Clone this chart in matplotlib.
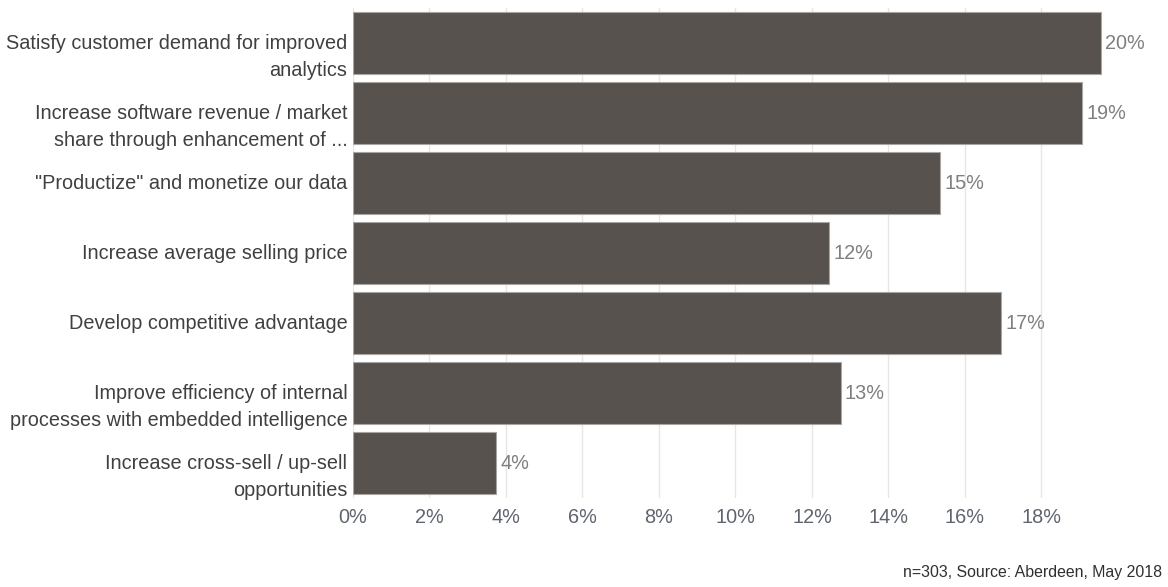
import matplotlib.pyplot as plt
import numpy as np

plt.rcParams["font.family"] = ["Liberation Sans", "DejaVu Sans"]

categories = [
    "Satisfy customer demand for improved\nanalytics",
    "Increase software revenue / market\nshare through enhancement of ...",
    "\"Productize\" and monetize our data",
    "Increase average selling price",
    "Develop competitive advantage",
    "Improve efficiency of internal\nprocesses with embedded intelligence",
    "Increase cross-sell / up-sell\nopportunities",
]
values = [19.56, 19.06, 15.35, 12.45, 16.95, 12.75, 3.74]
value_labels = ["20%", "19%", "15%", "12%", "17%", "13%", "4%"]
xticks = [0, 2, 4, 6, 8, 10, 12, 14, 16, 18]
source_note = "n=303, Source: Aberdeen, May 2018"

BAR_COLOR = "#57524e"
FS = 14.3

fig = plt.figure(figsize=(11.68, 5.87), dpi=100)
ax = fig.add_axes([0.3022, 0.1516, 0.6713, 0.8344])

y = np.arange(len(categories))
ax.barh(y, values, height=0.885, color=BAR_COLOR, edgecolor="#a8a5a3", linewidth=0.8, zorder=3)

for yi, v, lab in zip(y, values, value_labels):
    ax.annotate(lab, xy=(v, yi), xytext=(3, 0), textcoords="offset points",
                ha="left", va="center", fontsize=FS, color="#7f7f7f")

# category labels: first line sits on the bar centre, extra lines go below
trans = ax.get_yaxis_transform()
for yi, text in zip(y, categories):
    for i, line in enumerate(text.split("\n")):
        ax.annotate(line, xy=(0, yi), xycoords=trans, xytext=(-4, -19.5 * i),
                    textcoords="offset points", ha="right", va="center",
                    fontsize=FS, color="#404040")

ax.set_yticks([])
ax.set_ylim(len(categories) - 0.5, -0.5)
ax.set_xlim(0, 20.5)
ax.set_xticks(xticks)
ax.set_xticklabels([f"{t}%" for t in xticks], fontsize=FS, color="#5f6470")
ax.tick_params(axis="x", length=0, pad=7)
ax.grid(axis="x", color="#e6e6e6", lw=1.0, zorder=0)
for s in ax.spines.values():
    s.set_visible(False)

fig.text(0.995, 0.024, source_note, ha="right", va="center", fontsize=11.4, color="#303030")

fig.savefig("out.png", dpi=100)
plt.close(fig)
